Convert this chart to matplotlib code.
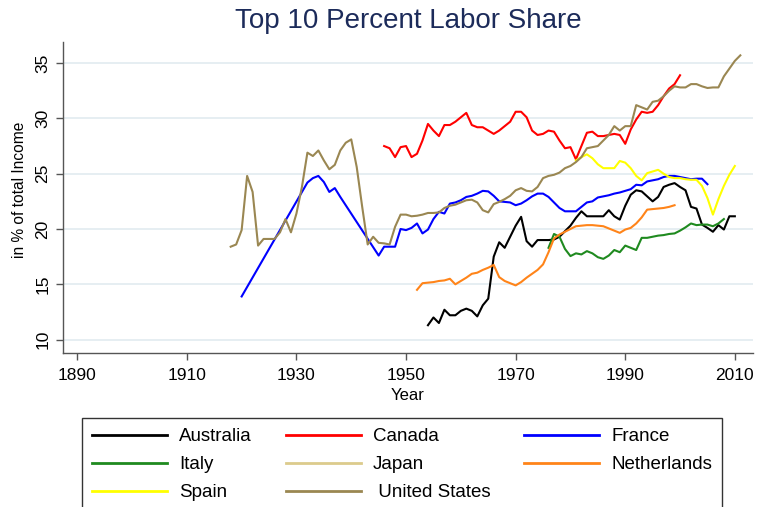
import matplotlib.pyplot as plt
from matplotlib.lines import Line2D

plt.rcParams['font.family'] = ['Liberation Sans', 'DejaVu Sans']

# Data (top 10% labor share, % of total income)
aus_years = list(range(1954, 2011))
aus_vals = [11.3, 12.0, 11.5, 12.7, 12.2, 12.2, 12.6, 12.8, 12.6, 12.1,
            13.1, 13.7, 17.5, 18.8, 18.3, 19.3, 20.3, 21.1, 18.9, 18.4,
            19.0, 19.0, 19.0, 19.05, 19.3, 19.8, 20.3, 21.0, 21.6, 21.15,
            21.15, 21.15, 21.15, 21.7, 21.15, 20.85, 22.1, 23.1, 23.5, 23.4,
            22.95, 22.5, 22.9, 23.8, 24.0, 24.15, 23.8, 23.5, 22.0, 21.85,
            20.4, 20.1, 19.75, 20.35, 19.95, 21.15, 21.15]

can_years = list(range(1946, 2001))
can_vals = [27.5, 27.3, 26.5, 27.4, 27.5, 26.5, 26.8, 28.0, 29.5, 28.9,
            28.4, 29.4, 29.4, 29.7, 30.1, 30.5, 29.4, 29.2, 29.2, 28.9,
            28.6, 28.9, 29.3, 29.7, 30.6, 30.6, 30.1, 28.9, 28.5, 28.6,
            28.9, 28.8, 28.0, 27.3, 27.4, 26.3, 27.5, 28.7, 28.8, 28.4,
            28.4, 28.5, 28.6, 28.5, 27.7, 29.0, 29.9, 30.6, 30.5, 30.6,
            31.2, 32.0, 32.7, 33.1, 33.9]

fra_years = [1920, 1932, 1933, 1934, 1935, 1936, 1937, 1938, 1945] + list(range(1946, 2006))
fra_vals = [13.9, 24.2, 24.6, 24.8, 24.25, 23.35, 23.7, 22.9, 17.6,
            18.4, 18.4, 18.4, 20.0, 19.9, 20.1, 20.5, 19.6, 19.95, 20.9,
            21.55, 21.4, 22.3, 22.4, 22.6, 22.9, 23.0, 23.2, 23.45, 23.4,
            23.0, 22.5, 22.45, 22.4, 22.15, 22.3, 22.6, 22.95, 23.2, 23.2,
            22.9, 22.4, 21.9, 21.6, 21.6, 21.6, 22.0, 22.4, 22.5, 22.85,
            22.95, 23.05, 23.2, 23.3, 23.45, 23.6, 24.0, 23.95, 24.3, 24.4,
            24.5, 24.7, 24.8, 24.8, 24.7, 24.6, 24.5, 24.55, 24.55, 24.05]

ita_years = list(range(1976, 2009))
ita_vals = [18.3, 19.55, 19.3, 18.2, 17.55, 17.8, 17.7, 18.0, 17.8, 17.45,
            17.3, 17.6, 18.1, 17.9, 18.5, 18.3, 18.1, 19.2, 19.2, 19.3,
            19.4, 19.45, 19.55, 19.6, 19.85, 20.15, 20.5, 20.35, 20.4, 20.4,
            20.25, 20.5, 20.9]

jpn_years = []
jpn_vals = []

nld_years = list(range(1952, 2000))
nld_vals = [14.5, 15.1, 15.15, 15.2, 15.3, 15.35, 15.5, 15.0, 15.3, 15.6,
            15.95, 16.05, 16.3, 16.5, 16.75, 15.65, 15.3, 15.1, 14.9, 15.2,
            15.6, 15.95, 16.3, 16.8, 17.9, 19.15, 19.5, 19.75, 20.0, 20.25,
            20.3, 20.35, 20.35, 20.3, 20.25, 20.05, 19.85, 19.65, 19.95, 20.1,
            20.5, 21.05, 21.75, 21.8, 21.85, 21.9, 22.0, 22.15]

esp_years = list(range(1981, 2011))
esp_vals = [26.2, 26.5, 26.75, 26.4, 25.85, 25.5, 25.5, 25.5, 26.15, 26.0,
            25.5, 24.8, 24.4, 25.05, 25.2, 25.35, 25.0, 24.7, 24.6, 24.6,
            24.5, 24.45, 24.45, 23.9, 22.8, 21.3, 22.7, 23.9, 24.9, 25.7]

usa_years = list(range(1918, 1951)) + list(range(1951, 2012))
usa_vals = [18.4, 18.6, 19.9, 24.8, 23.35, 18.5, 19.1, 19.1, 19.1, 19.7,
            20.9, 19.7, 21.4, 23.8, 26.9, 26.6, 27.1, 26.2, 25.4, 25.8,
            27.1, 27.8, 28.1, 25.6, 22.0, 18.6, 19.3, 18.75, 18.7, 18.6,
            20.2, 21.3, 21.3,
            21.15, 21.2, 21.3, 21.45, 21.45, 21.5, 21.9, 22.1, 22.2, 22.4,
            22.6, 22.65, 22.4, 21.7, 21.5, 22.25, 22.45, 22.7, 23.0, 23.5,
            23.7, 23.45, 23.4, 23.8, 24.6, 24.8, 24.9, 25.1, 25.5, 25.7,
            26.05, 26.5, 27.3, 27.4, 27.5, 28.0, 28.5, 29.3, 28.9, 29.3,
            29.3, 31.2, 31.0, 30.8, 31.5, 31.6, 32.0, 32.5, 32.9, 32.8,
            32.8, 33.1, 33.1, 32.9, 32.75, 32.8, 32.8, 33.8, 34.5, 35.2,
            35.7]

series = [
    ("Australia", aus_years, aus_vals, "#000000"),
    ("Canada", can_years, can_vals, "#ff0000"),
    ("France", fra_years, fra_vals, "#0000ff"),
    ("Italy", ita_years, ita_vals, "#1f8a1f"),
    ("Japan", jpn_years, jpn_vals, "#dccb8c"),
    ("Netherlands", nld_years, nld_vals, "#ff8419"),
    ("Spain", esp_years, esp_vals, "#ffff00"),
    (" United States", usa_years, usa_vals, "#9a8752"),
]

x_ticks = [1890, 1910, 1930, 1950, 1970, 1990, 2010]
y_ticks = [10, 15, 20, 25, 30, 35]

fig = plt.figure(figsize=(7.59, 5.07), dpi=100)
ax = fig.add_axes([0.083, 0.304, 0.909, 0.613])

for y in y_ticks:
    ax.axhline(y, color="#e4edf1", lw=1.3, zorder=0)

handles = {}
for name, xs, ys, col in series:
    ax.plot(xs, ys, color=col, lw=1.5)
    handles[name] = Line2D([], [], color=col, lw=2)

ax.set_xlim(1887.4, 2013.3)
ax.set_ylim(8.8, 36.9)
ax.set_xticks(x_ticks)
ax.set_yticks(y_ticks)
ax.tick_params(axis="both", direction="out", length=5, width=1,
               color="#555555", labelsize=12.5, labelcolor="black")
ax.tick_params(axis="x", pad=6)
ax.tick_params(axis="y", pad=4)
plt.setp(ax.get_yticklabels(), rotation=90, va="center")
for s in ["top", "right"]:
    ax.spines[s].set_visible(False)
for s in ["left", "bottom"]:
    ax.spines[s].set_color("#555555")
    ax.spines[s].set_linewidth(1)

fig.text(0.5375, 1 - 395 / 507, "Year", ha="center", va="center", fontsize=12)
fig.text(20 / 759, 1 - 190 / 507, "in % of total Income", ha="center",
         va="center", rotation=90, fontsize=11.2)

fig.text(0.5375, 0.958, "Top 10 Percent Labor Share", ha="center", va="center",
         fontsize=20, color="#1c2b5a")

order = ["Australia", "Italy", "Spain", "Canada", "Japan", " United States",
         "France", "Netherlands"]
leg = fig.legend([handles[k] for k in order], order, ncol=3,
                 loc="upper left", bbox_to_anchor=(82 / 759, 1 - 418 / 507),
                 fontsize=13.5, frameon=True, fancybox=False, handlelength=4.0,
                 handletextpad=0.64, columnspacing=1.8, labelspacing=0.58,
                 borderpad=0.55, borderaxespad=0)
leg.get_frame().set_edgecolor("black")
leg.get_frame().set_linewidth(1)

fig.savefig("out.png", dpi=100)
